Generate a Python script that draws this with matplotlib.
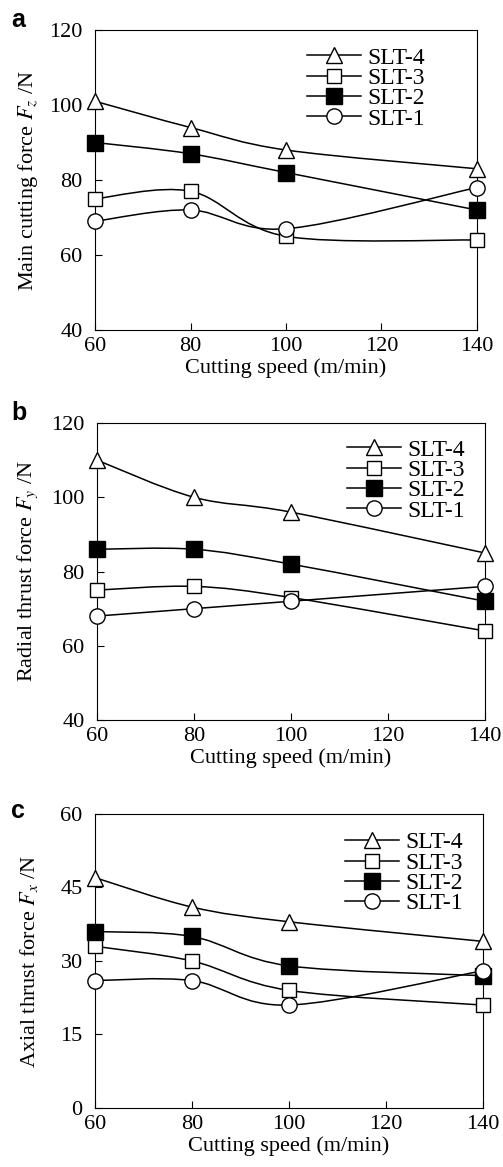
import numpy as np
import matplotlib
matplotlib.use("Agg")
import matplotlib.pyplot as plt
from matplotlib.path import Path
from matplotlib.patches import PathPatch
from matplotlib.lines import Line2D

plt.rcParams['font.family'] = 'Liberation Serif'
plt.rcParams['mathtext.fontset'] = 'stix'

speed = [60, 80, 100, 140]
series_names = ["SLT-4", "SLT-3", "SLT-2", "SLT-1"]

fz = {"SLT-4": [101, 94, 88, 83], "SLT-3": [75, 77, 65, 64],
      "SLT-2": [90, 87, 82, 72], "SLT-1": [69, 72, 67, 78]}
fy = {"SLT-4": [110, 100, 96, 85], "SLT-3": [75, 76, 73, 64],
      "SLT-2": [86, 86, 82, 72], "SLT-1": [68, 70, 72, 76]}
fx = {"SLT-4": [47, 41, 38, 34], "SLT-3": [33, 30, 24, 21],
      "SLT-2": [36, 35, 29, 27], "SLT-1": [26, 26, 21, 28]}

ylabels = [r"Main cutting force $F_z$ /N", r"Radial thrust force $F_y$ /N",
           r"Axial thrust force $F_x$ /N"]
yticks = [[40, 60, 80, 100, 120], [40, 60, 80, 100, 120], [0, 15, 30, 45, 60]]
letters = ["a", "b", "c"]

styles = {"SLT-4": dict(marker="^", mfc="white", ms=11),
          "SLT-3": dict(marker="s", mfc="white", ms=10),
          "SLT-2": dict(marker="s", mfc="black", ms=12),
          "SLT-1": dict(marker="o", mfc="white", ms=11)}

positions = [[0.189, 0.7172, 0.759, 0.2571],
             [0.193, 0.383, 0.771, 0.2545],
             [0.189, 0.0506, 0.771, 0.2519]]
legend_anchor = [(0.864, 0.943), (0.948, 0.946), (0.948, 0.939)]
letter_y = [0.9769, 0.6401, 0.299]


def smooth_path(x, y):
    # Catmull-Rom style cubic bezier through the data points
    p = np.column_stack([x, y]).astype(float)
    ext = np.vstack([p[0], p, p[-1]])
    verts = [p[0]]
    codes = [Path.MOVETO]
    for i in range(len(p) - 1):
        c1 = ext[i + 1] + (ext[i + 2] - ext[i]) / 6
        c2 = ext[i + 2] - (ext[i + 3] - ext[i + 1]) / 6
        verts += [c1, c2, p[i + 1]]
        codes += [Path.CURVE4] * 3
    return Path(verts, codes)


fig = plt.figure(figsize=(5.03, 11.67), dpi=100)
for k, data in enumerate([fz, fy, fx]):
    ax = fig.add_axes(positions[k])
    for name in series_names:
        ax.add_patch(PathPatch(smooth_path(speed, data[name]), fc="none",
                               ec="black", lw=1.1, zorder=2))
        st = styles[name]
        ax.plot(speed, data[name], ls="none", marker=st["marker"], ms=st["ms"],
                mfc=st["mfc"], mec="black", mew=1.0, zorder=3, clip_on=False)
    handles = [Line2D([], [], color="black", lw=1.1, marker=styles[n]["marker"],
                      ms=styles[n]["ms"], mfc=styles[n]["mfc"], mec="black")
               for n in series_names]
    ax.legend(handles, series_names, loc="upper right", frameon=False,
              fontsize=17, handlelength=2.3, handletextpad=0.25,
              labelspacing=-0.05, borderaxespad=0, borderpad=0,
              bbox_to_anchor=legend_anchor[k])
    ax.set_xlim(60, 140)
    ax.set_ylim(yticks[k][0], yticks[k][-1])
    ax.set_xticks([60, 80, 100, 120, 140])
    ax.set_yticks(yticks[k])
    ax.tick_params(direction="in", labelsize=16, length=5)
    ax.tick_params(axis="x", pad=5)
    ax.tick_params(axis="y", pad=9)
    ax.set_xlabel("Cutting speed (m/min)", fontsize=16, labelpad=2)
    ax.set_ylabel(ylabels[k], fontsize=16)
    ax.yaxis.set_label_coords(40 / 503, 0.5, transform=fig.transFigure)
    ax.yaxis.label.set_y(positions[k][1] + positions[k][3] / 2)
    fig.text(0.022, letter_y[k], letters[k], fontsize=18, fontweight="bold",
             family="Liberation Sans", va="baseline")

fig.savefig("out.png", dpi=100)
